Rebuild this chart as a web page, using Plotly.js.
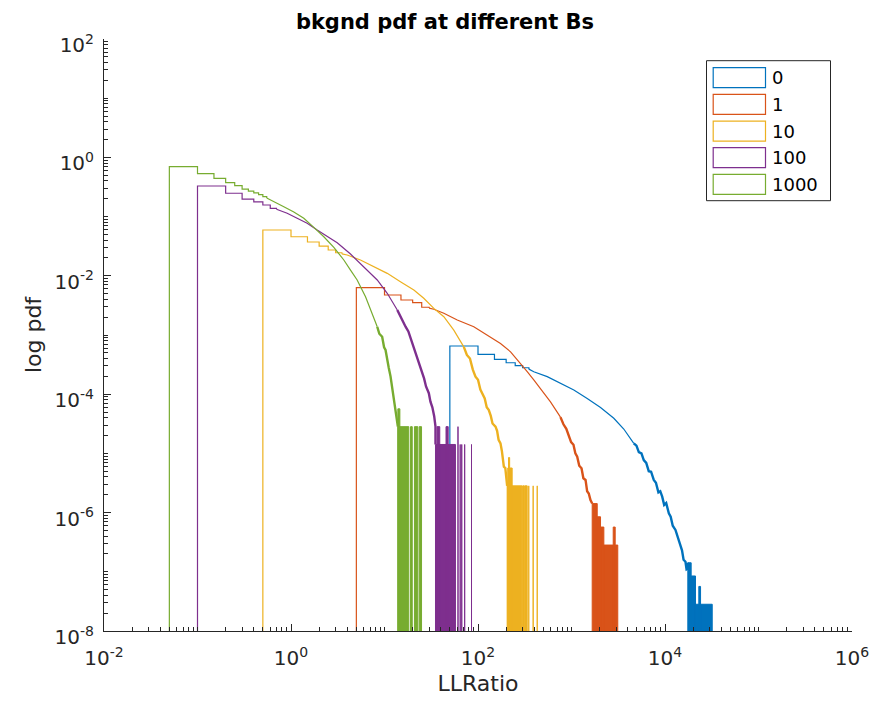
<!DOCTYPE html>
<html><head><meta charset="utf-8">
<script src="https://cdn.plot.ly/plotly-3.0.1.min.js"></script>
<style>html,body{margin:0;padding:0;background:#fff}#chart{width:876px;height:711px}</style>
</head><body><div id="chart"></div>
<script>
// ---- legend / series ----
const seriesNames = ['0', '1', '10', '100', '1000'];
const seriesColors = ['#0072BD', '#D95319', '#EDB120', '#7E2F8E', '#77AC30'];

// ---- B = 0 (bin width 50) ----
const b0_binEdges = [50, 100, 150, 200, 250, 300, 350];
const b0_binPdf = [6.52e-4, 4.72e-4, 3.88e-4, 3.4e-4, 3.03e-4, 2.8e-4];
const b0_curveX = [350, 395, 550, 762, 1059, 1472, 2044, 2834, 3624, 4634];
const b0_curveY = [2.65e-4, 2.4e-4, 1.98e-4, 1.53e-4, 1.18e-4, 8.5e-5, 5.96e-5, 3.92e-5, 2.58e-5, 1.48e-5];
const b0_noiseX = [4634, 4950, 5250, 5600, 5929, 6300, 6700, 7100, 7586, 8000, 8500, 8900, 9333, 9800, 10300, 10990, 11500, 12100, 12940, 13400, 14000, 14650, 15200, 15800, 16560, 17000, 17540];
const b0_noiseY = [1.48e-5, 1.35e-5, 1.05e-5, 1.0e-5, 7.7e-6, 6.9e-6, 5.0e-6, 4.9e-6, 3.56e-6, 3.2e-6, 2.2e-6, 2.3e-6, 1.86e-6, 1.35e-6, 1.45e-6, 9.7e-7, 8.5e-7, 6.0e-7, 5.1e-7, 4.2e-7, 3.6e-7, 2.65e-7, 2.3e-7, 1.6e-7, 1.48e-7, 1.1e-7, 1.13e-7];
const b0_blockX0 = [17540, 19050, 21190, 23000, 24000];
const b0_blockX1 = [19050, 21190, 23000, 24000, 32000];
const b0_blockTop = [1.42e-7, 8.5e-8, 2.83e-8, 5.66e-8, 2.83e-8];

// ---- B = 1 (bin width 5) ----
const b1_binEdges = [5, 10, 15, 20, 25, 30];
const b1_binPdf = [0.0063, 0.00474, 0.0039, 0.00352, 0.00294];
const b1_curveX = [30, 33.7, 43.1, 60, 90.2, 125, 174, 223, 285, 336, 395, 506, 596, 762];
const b1_curveY = [0.00285, 0.00272, 0.00233, 0.00179, 0.00138, 0.001, 7.2e-4, 5.2e-4, 3.33e-4, 2.4e-4, 1.74e-4, 1.04e-4, 7.4e-5, 4.1e-5];
const b1_noiseX = [762, 820, 880, 935, 990, 1050, 1100, 1151, 1210, 1280, 1340, 1413, 1470, 1530, 1596, 1665];
const b1_noiseY = [4.1e-5, 3.1e-5, 2.6e-5, 1.91e-5, 1.55e-5, 1.4e-5, 1.0e-5, 8.8e-6, 6.2e-6, 5.6e-6, 3.8e-6, 3.56e-6, 2.3e-6, 2.1e-6, 1.63e-6, 1.42e-6];
const b1_blockX0 = [1665, 1884, 2044, 2218, 2793, 2933];
const b1_blockX1 = [1884, 2044, 2218, 2793, 2933, 3126];
const b1_blockTop = [1.42e-6, 8.5e-7, 5.7e-7, 2.83e-7, 5.7e-7, 2.83e-7];

// ---- B = 10 (bin width 0.5) ----
const b10_binEdges = [0.5, 1, 1.5, 2, 2.5, 3, 3.5];
const b10_binPdf = [0.0594, 0.0457, 0.0372, 0.0318, 0.0273, 0.0245];
const b10_curveX = [3.5, 3.99, 5.53, 7.69, 10.7, 14.8, 20.6, 26.3, 33.7, 43.1, 55.1, 70.5];
const b10_curveY = [0.0235, 0.02245, 0.0185, 0.01426, 0.011, 0.00794, 0.00575, 0.00417, 0.00282, 0.00204, 0.00121, 6.3e-4];
const b10_noiseX = [70.5, 76, 82, 88, 94, 100, 106, 111, 118, 124, 130.5, 137, 143, 154, 160, 166, 174, 180, 189, 196, 205];
const b10_noiseY = [6.3e-4, 4.6e-4, 4.0e-4, 2.6e-4, 1.98e-4, 1.75e-4, 1.2e-4, 1.04e-4, 8.5e-5, 6.0e-5, 5.4e-5, 4.3e-5, 3.2e-5, 2.83e-5, 2.4e-5, 1.7e-5, 1.48e-5, 1.1e-5, 5.96e-6, 5.66e-6, 2.83e-6];
const b10_blockX0 = [205, 300, 316, 208, 212, 349, 389, 430];
const b10_blockX1 = [295, 312, 336, 232, 218, 349.5, 389.5, 430.5];
const b10_blockTop = [2.83e-6, 2.83e-6, 2.83e-6, 5.66e-6, 8.5e-6, 2.83e-6, 2.83e-6, 2.83e-6];

// ---- B = 100 (bin width 0.1) ----
const b100_binEdges = [0.1, 0.2, 0.3, 0.4, 0.5, 0.6, 0.7];
const b100_binPdf = [0.329, 0.248, 0.198, 0.177, 0.157, 0.138];
const b100_curveX = [0.7, 0.91, 1.164, 1.489, 1.905, 2.44, 3.12, 4.33, 6.53, 8.36, 10.7, 13.7];
const b100_curveY = [0.133, 0.1137, 0.0935, 0.0771, 0.0594, 0.047, 0.0362, 0.0233, 0.01253, 0.0085, 0.00506, 0.00264];
const b100_noiseX = [13.7, 15, 16.8, 18, 19.3, 20.6, 22, 23.5, 25.3, 26.5, 27.8, 29.8, 31, 32.5, 34, 35.1];
const b100_noiseY = [0.00264, 0.00195, 0.00138, 0.00115, 8.2e-4, 6.3e-4, 4.6e-4, 3.4e-4, 2.25e-4, 1.85e-4, 1.35e-4, 1.04e-4, 7.5e-5, 6.0e-5, 4.25e-5, 2.83e-5];
const b100_blockX0 = [35.1, 36.5, 45.5, 61.1, 64.5, 67, 72, 85.2];
const b100_blockX1 = [57.4, 39, 48, 61.2, 64.6, 67.1, 72.1, 85.3];
const b100_blockTop = [1.415e-5, 2.83e-5, 2.83e-5, 2.83e-5, 1.415e-5, 1.415e-5, 1.415e-5, 1.415e-5];

// ---- B = 1000 (bin width 0.05) ----
const b1000_binEdges = [0.05, 0.1, 0.15, 0.2, 0.25, 0.3, 0.35, 0.4, 0.45, 0.5, 0.55];
const b1000_binPdf = [0.70, 0.53, 0.443, 0.374, 0.333, 0.292, 0.27, 0.252, 0.235, 0.218];
const b1000_curveX = [0.55, 0.682, 0.838, 1.072, 1.371, 1.754, 2.244, 2.871, 3.673, 4.33, 5.1, 6.27, 7.69, 8.36];
const b1000_curveY = [0.206, 0.175, 0.147, 0.120, 0.0935, 0.0659, 0.0457, 0.0303, 0.0185, 0.0125, 0.0085, 0.00444, 0.00204, 0.00138];
const b1000_noiseX = [8.36, 8.8, 9.44, 9.9, 10.26, 10.7, 11.1, 11.6, 12.1, 12.6, 13.1, 13.5, 13.9];
const b1000_noiseY = [0.00138, 0.00105, 9.35e-4, 6.2e-4, 5.58e-4, 3.6e-4, 2.8e-4, 2.0e-4, 1.3e-4, 8.0e-5, 5.4e-5, 4.5e-5, 2.83e-5];
const b1000_blockX0 = [13.9, 13.9, 19.0, 20.9, 23.5];
const b1000_blockX1 = [18.2, 14.6, 19.8, 22.7, 24.9];
const b1000_blockTop = [2.83e-5, 5.66e-5, 2.83e-5, 2.83e-5, 2.83e-5];

// ---- axis ticks ----
const xTickVals = [1e-2, 1e0, 1e2, 1e4, 1e6];
const xTickText = ['10<sup>-2</sup>', '10<sup>0</sup>', '10<sup>2</sup>', '10<sup>4</sup>', '10<sup>6</sup>'];
const yTickVals = [1e-8, 1e-6, 1e-4, 1e-2, 1e0, 1e2];
const yTickText = ['10<sup>-8</sup>', '10<sup>-6</sup>', '10<sup>-4</sup>', '10<sup>-2</sup>', '10<sup>0</sup>', '10<sup>2</sup>'];

const FLOOR = 1e-12; // empty bins (zero pdf) drawn below the axis floor

const series = [
  [b0_binEdges, b0_binPdf, b0_curveX, b0_curveY, b0_noiseX, b0_noiseY, b0_blockX0, b0_blockX1, b0_blockTop],
  [b1_binEdges, b1_binPdf, b1_curveX, b1_curveY, b1_noiseX, b1_noiseY, b1_blockX0, b1_blockX1, b1_blockTop],
  [b10_binEdges, b10_binPdf, b10_curveX, b10_curveY, b10_noiseX, b10_noiseY, b10_blockX0, b10_blockX1, b10_blockTop],
  [b100_binEdges, b100_binPdf, b100_curveX, b100_curveY, b100_noiseX, b100_noiseY, b100_blockX0, b100_blockX1, b100_blockTop],
  [b1000_binEdges, b1000_binPdf, b1000_curveX, b1000_curveY, b1000_noiseX, b1000_noiseY, b1000_blockX0, b1000_blockX1, b1000_blockTop]
];

const LW = 1.2;
const traces = [];
series.forEach((s, i) => {
  const [edges, pdf, cx, cy, nx, ny, bx0, bx1, bt] = s;
  const col = seriesColors[i];
  const common = {type: 'scatter', mode: 'lines', hoverinfo: 'skip', showlegend: false, name: seriesNames[i]};
  const sx = [edges[0]], sy = [FLOOR];
  for (let k = 0; k < pdf.length; k++) { sx.push(edges[k]); sy.push(pdf[k]); }
  sx.push(edges[edges.length - 1]); sy.push(cy[0]);
  traces.push(Object.assign({}, common, {x: sx, y: sy, line: {color: col, width: LW, shape: 'hv'}}));
  traces.push(Object.assign({}, common, {x: cx, y: cy, line: {color: col, width: LW, shape: 'linear'}}));
  traces.push(Object.assign({}, common, {x: nx.concat([bx0[0]]), y: ny.concat([bt[0]]), line: {color: col, width: 2.4, shape: 'linear'}}));
  const tx = [], ty = [];
  for (let k = 0; k < bx0.length; k++) {
    tx.push(bx0[k], bx0[k], bx1[k], bx1[k], null);
    ty.push(FLOOR, bt[k], bt[k], FLOOR, null);
  }
  traces.push(Object.assign({}, common, {x: tx, y: ty, fill: 'toself', fillcolor: col, line: {color: col, width: 1}}));
});

// legend built from shapes + annotations
const L = 103.5, W = 748, B = 631, H = 592;
const px = v => (v - L) / W, py = v => (B - v) / H;
const shapes = [{type: 'rect', xref: 'paper', yref: 'paper', x0: px(706), x1: px(830), y0: py(200.7), y1: py(60.7),
  line: {color: '#262626', width: 1}, fillcolor: '#ffffff', layer: 'above'}];
const annotations = [];
seriesNames.forEach((n, i) => {
  const c = 77.7 + 26.67 * i;
  shapes.push({type: 'rect', xref: 'paper', yref: 'paper', x0: px(712.7), x1: px(765), y0: py(c + 10), y1: py(c - 10),
    line: {color: seriesColors[i], width: 1.2}, fillcolor: 'rgba(0,0,0,0)', layer: 'above'});
  annotations.push({xref: 'paper', yref: 'paper', x: px(769), y: py(c), text: n, showarrow: false,
    xanchor: 'left', yanchor: 'middle', font: {size: 18, color: '#000000'}});
});

const axisCommon = {
  type: 'log', showgrid: false, zeroline: false, showline: true, linecolor: '#262626', linewidth: 1,
  ticks: 'inside', ticklen: 7, tickwidth: 1, tickcolor: '#262626', tickmode: 'array',
  tickfont: {size: 20, color: '#262626'},
  minor: {ticks: 'inside', ticklen: 4, tickwidth: 1, tickcolor: '#262626', dtick: 'D1', showgrid: false},
  mirror: false
};

const layout = {
  width: 876, height: 711,
  margin: {l: 104, r: 24, t: 39, b: 80},
  paper_bgcolor: '#ffffff', plot_bgcolor: '#ffffff',
  font: {family: 'DejaVu Sans, Liberation Sans, Arial, sans-serif', color: '#262626'},
  title: {text: 'bkgnd pdf at different Bs', font: {size: 21, color: '#000000', weight: 'bold'},
    x: 445 / 876, xanchor: 'center', y: 1 - 22 / 711, yanchor: 'middle', yref: 'container'},
  xaxis: Object.assign({}, axisCommon, {range: [-2, 6], tickvals: xTickVals, ticktext: xTickText, ticklabelstandoff: 9,
    title: {text: 'LLRatio', font: {size: 22, color: '#262626'}, standoff: 6}}),
  yaxis: Object.assign({}, axisCommon, {range: [-8, 2], tickvals: yTickVals, ticktext: yTickText, ticklabelstandoff: 5,
    ticklabelshift: 6,
    title: {text: 'log pdf', font: {size: 22, color: '#262626'}, standoff: 6}}),
  shapes: shapes, annotations: annotations, showlegend: false
};

Plotly.newPlot('chart', traces, layout, {staticPlot: true, displayModeBar: false});
</script></body></html>
